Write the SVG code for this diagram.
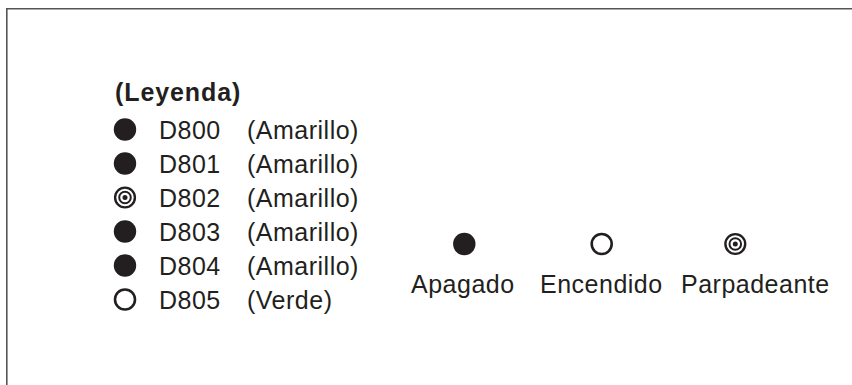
<svg xmlns="http://www.w3.org/2000/svg" width="852" height="385" viewBox="0 0 852 385">
<style>
text{font-family:"Liberation Sans",Arial,sans-serif;font-size:25px;fill:#231f20;letter-spacing:0.5px}
.b{font-weight:bold;letter-spacing:0.9px}
.off{fill:#231f20}
.on{fill:#fff;stroke:#231f20;stroke-width:2.6}
.frame{stroke:#555;stroke-width:1.6;fill:none}
</style>
<defs>
<g id="offI"><circle r="11.2" class="off"/></g>
<g id="onI"><circle r="10" class="on"/></g>
<g id="blinkI"><circle r="9.9" fill="#fff" stroke="#231f20" stroke-width="2.4"/><circle r="5.8" fill="#fff" stroke="#231f20" stroke-width="2"/><circle r="2.5" fill="#231f20"/></g>
</defs>
<rect width="852" height="385" fill="#fff"/>
<path class="frame" d="M6.8,385 V8.8 H852"/>
<g id="title"><text class="b" x="115" y="101">(Leyenda)</text></g>
<g id="d800"><use href="#offI" x="125" y="129.5"/><text x="159" y="138.5">D800</text><text x="247" y="138.5">(Amarillo)</text></g>
<g id="d801"><use href="#offI" x="125" y="163.5"/><text x="159" y="172.5">D801</text><text x="247" y="172.5">(Amarillo)</text></g>
<g id="d802"><use href="#blinkI" x="125" y="197.5"/><text x="159" y="206.5">D802</text><text x="247" y="206.5">(Amarillo)</text></g>
<g id="d803"><use href="#offI" x="125" y="231.5"/><text x="159" y="240.5">D803</text><text x="247" y="240.5">(Amarillo)</text></g>
<g id="d804"><use href="#offI" x="125" y="265.5"/><text x="159" y="274.5">D804</text><text x="247" y="274.5">(Amarillo)</text></g>
<g id="d805"><use href="#onI" x="125" y="299.5"/><text x="159" y="308.5">D805</text><text x="247" y="308.5">(Verde)</text></g>
<g id="apagado"><use href="#offI" x="464.3" y="244"/><text x="411" y="292.5">Apagado</text></g>
<g id="encendido"><use href="#onI" x="601.7" y="244"/><text x="540" y="292.5">Encendido</text></g>
<g id="parpadeante"><use href="#blinkI" x="735.3" y="244"/><text x="681" y="292.5">Parpadeante</text></g>
<g id="connectors"/>
</svg>
